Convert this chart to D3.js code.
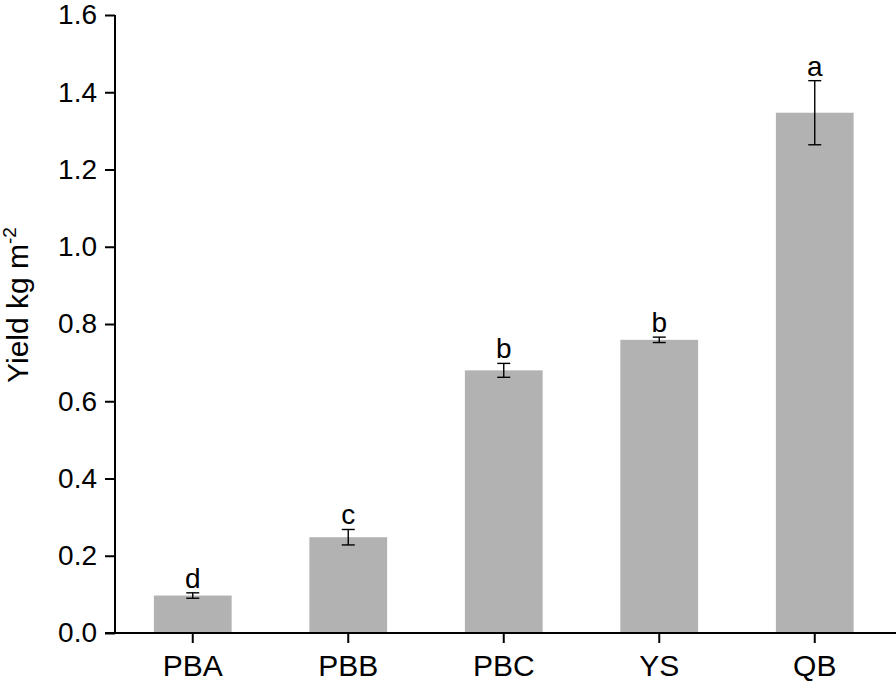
<!DOCTYPE html>
<html>
<head>
<meta charset="utf-8">
<script src="https://cdn.jsdelivr.net/npm/d3@7"></script>
<style>
  body { margin: 0; background: #fff; }
  text { font-family: "Liberation Sans", Arial, sans-serif; fill: #000; }
</style>
</head>
<body>
<svg width="896" height="682"></svg>
<script>
// data
const sites = ["PBA", "PBB", "PBC", "YS", "QB"];
const yieldMean = [0.097, 0.248, 0.680, 0.759, 1.347];
const yieldErr = [0.007, 0.020, 0.018, 0.007, 0.083];
const groups = ["d", "c", "b", "b", "a"];
const yTicks = [0, 0.2, 0.4, 0.6, 0.8, 1.0, 1.2, 1.4, 1.6];

const svg = d3.select("svg");
const padL = 115, padB = 633, padT = 15, padR = 892.5;

const x = d3.scaleBand()
  .domain(sites)
  .range([padL, padR])
  .paddingInner(0.5)
  .paddingOuter(0.25);

const y = d3.scaleLinear()
  .domain([0, 1.6])
  .range([padB, padT]);

// bars
svg.selectAll("rect.bar")
  .data(sites)
  .enter()
  .append("rect")
  .attr("class", "bar")
  .attr("x", d => x(d))
  .attr("y", (d, i) => y(yieldMean[i]))
  .attr("width", x.bandwidth())
  .attr("height", (d, i) => padB - y(yieldMean[i]))
  .attr("fill", "#b2b2b2");

// error bars
const eb = svg.selectAll("g.err")
  .data(sites)
  .enter()
  .append("g")
  .attr("class", "err")
  .attr("stroke", "#000")
  .attr("stroke-width", 1.4);

const cx = d => x(d) + x.bandwidth() / 2;
eb.append("line")
  .attr("x1", cx).attr("x2", cx)
  .attr("y1", (d, i) => y(yieldMean[i] + yieldErr[i]))
  .attr("y2", (d, i) => y(yieldMean[i] - yieldErr[i]));
eb.append("line")
  .attr("x1", d => cx(d) - 6.5).attr("x2", d => cx(d) + 6.5)
  .attr("y1", (d, i) => y(yieldMean[i] + yieldErr[i]))
  .attr("y2", (d, i) => y(yieldMean[i] + yieldErr[i]));
eb.append("line")
  .attr("x1", d => cx(d) - 6.5).attr("x2", d => cx(d) + 6.5)
  .attr("y1", (d, i) => y(yieldMean[i] - yieldErr[i]))
  .attr("y2", (d, i) => y(yieldMean[i] - yieldErr[i]));

// significance letters
svg.selectAll("text.grp")
  .data(sites)
  .enter()
  .append("text")
  .attr("class", "grp")
  .attr("x", cx)
  .attr("y", (d, i) => y(yieldMean[i] + yieldErr[i]) - 5)
  .attr("text-anchor", "middle")
  .attr("font-size", 28)
  .text((d, i) => groups[i]);

// axes
const yAxis = d3.axisLeft(y)
  .tickValues(yTicks)
  .tickFormat(d3.format(".1f"))
  .tickSize(10)
  .tickPadding(8)
  .tickSizeOuter(0);

const xAxis = d3.axisBottom(x)
  .tickSize(10)
  .tickPadding(12)
  .tickSizeOuter(0);

const gy = svg.append("g")
  .attr("transform", "translate(" + padL + ",0)")
  .call(yAxis);
gy.select(".domain").remove();
gy.append("line")
  .attr("x1", 0).attr("x2", 0)
  .attr("y1", padT).attr("y2", padB)
  .attr("stroke", "#000").attr("stroke-width", 2);

const gx = svg.append("g")
  .attr("transform", "translate(0," + padB + ")")
  .call(xAxis);
gx.select(".domain").remove();
gx.append("line")
  .attr("x1", padL - 10).attr("x2", 896)
  .attr("stroke", "#000").attr("stroke-width", 2);

svg.selectAll(".tick line").attr("stroke", "#000").attr("stroke-width", 2);
svg.selectAll(".tick text")
  .attr("fill", "#000")
  .style("font-family", "'Liberation Sans', Arial, sans-serif");
gy.selectAll(".tick text").attr("font-size", 28);
gx.selectAll(".tick text").attr("font-size", 30);

// y label
const yl = svg.append("text")
  .attr("transform", "translate(28,305) rotate(-90)")
  .attr("text-anchor", "middle")
  .attr("font-size", 30);
yl.append("tspan").text("Yield kg m");
yl.append("tspan").attr("font-size", 19).attr("dy", -12).text("-2");
</script>
</body>
</html>
